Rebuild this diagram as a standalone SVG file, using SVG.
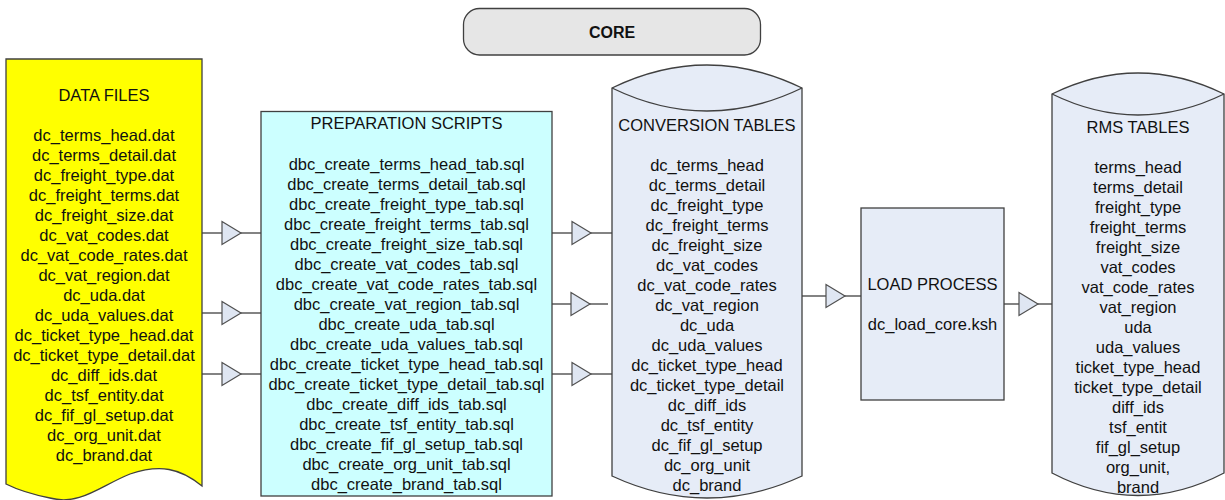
<svg xmlns="http://www.w3.org/2000/svg" xmlns:xlink="http://www.w3.org/1999/xlink" width="1225" height="500" viewBox="0 0 1225 500">
<style>
text{font-family:"Liberation Sans",Arial,sans-serif;font-size:16.5px;fill:#111;text-anchor:middle}
.title{font-size:16.5px}
.core{font-weight:bold;font-size:16px}
.shape{stroke:#404040;stroke-width:1.3}
.blue{fill:#e6ecf7}
.conn{stroke:#5a5a5a;stroke-width:1.3;fill:none}
.tri{fill:#dfe6f2;stroke:#505050;stroke-width:1.2}
</style>
<defs>
<polygon id="tri" class="tri" points="0,-11.5 19,0 0,11.5"/>
</defs>
<rect width="1225" height="500" fill="#fff"/>

<g id="core">
<rect class="shape" x="463.5" y="8.5" width="297" height="46.5" rx="16" fill="#e6e6e6"/>
<text class="core" x="612" y="37.5">CORE</text>
</g>

<g id="connectors">
<line class="conn" x1="202" y1="233" x2="261" y2="233"/>
<line class="conn" x1="202" y1="313" x2="261" y2="313" stroke="#222"/>
<line class="conn" x1="202" y1="374" x2="261" y2="374"/>
<line class="conn" x1="552" y1="233" x2="612" y2="233"/>
<line class="conn" x1="552" y1="304" x2="608" y2="304"/>
<line class="conn" x1="552" y1="374" x2="612" y2="374"/>
<line class="conn" x1="802" y1="296" x2="861" y2="296" stroke="#222"/>
<line class="conn" x1="1004" y1="304" x2="1052" y2="304"/>
<use xlink:href="#tri" x="222" y="233"/>
<use xlink:href="#tri" x="222" y="313"/>
<use xlink:href="#tri" x="222" y="374"/>
<use xlink:href="#tri" x="572" y="233"/>
<use xlink:href="#tri" x="571" y="304"/>
<use xlink:href="#tri" x="572" y="374"/>
<use xlink:href="#tri" x="826" y="296"/>
<use xlink:href="#tri" x="1019" y="304"/>
</g>

<g id="data-files">
<path class="shape" fill="#ffff00" d="M6,59 L202,59 L202,486 C180,468 160,464 130,474 C100,486 80,506 50,498 C30,494 18,490 6,484 Z"/>
<text x="104" y="101">DATA FILES</text>
<text x="104" y="141">dc_terms_head.dat</text>
<text x="104" y="161">dc_terms_detail.dat</text>
<text x="104" y="181">dc_freight_type.dat</text>
<text x="104" y="201">dc_freight_terms.dat</text>
<text x="104" y="221">dc_freight_size.dat</text>
<text x="104" y="241">dc_vat_codes.dat</text>
<text x="104" y="261">dc_vat_code_rates.dat</text>
<text x="104" y="281">dc_vat_region.dat</text>
<text x="104" y="301">dc_uda.dat</text>
<text x="104" y="321">dc_uda_values.dat</text>
<text x="104" y="341">dc_ticket_type_head.dat</text>
<text x="104" y="361">dc_ticket_type_detail.dat</text>
<text x="104" y="381">dc_diff_ids.dat</text>
<text x="104" y="401">dc_tsf_entity.dat</text>
<text x="104" y="421">dc_fif_gl_setup.dat</text>
<text x="104" y="441">dc_org_unit.dat</text>
<text x="104" y="461">dc_brand.dat</text>
</g>

<g id="preparation-scripts">
<rect class="shape" x="261" y="111.5" width="291" height="384.5" fill="#ccffff"/>
<text x="406.5" y="129">PREPARATION SCRIPTS</text>
<text x="406.5" y="170">dbc_create_terms_head_tab.sql</text>
<text x="406.5" y="190">dbc_create_terms_detail_tab.sql</text>
<text x="406.5" y="210">dbc_create_freight_type_tab.sql</text>
<text x="406.5" y="230">dbc_create_freight_terms_tab.sql</text>
<text x="406.5" y="250">dbc_create_freight_size_tab.sql</text>
<text x="406.5" y="270">dbc_create_vat_codes_tab.sql</text>
<text x="406.5" y="290">dbc_create_vat_code_rates_tab.sql</text>
<text x="406.5" y="310">dbc_create_vat_region_tab.sql</text>
<text x="406.5" y="330">dbc_create_uda_tab.sql</text>
<text x="406.5" y="350">dbc_create_uda_values_tab.sql</text>
<text x="406.5" y="370">dbc_create_ticket_type_head_tab.sql</text>
<text x="406.5" y="390">dbc_create_ticket_type_detail_tab.sql</text>
<text x="406.5" y="410">dbc_create_diff_ids_tab.sql</text>
<text x="406.5" y="430">dbc_create_tsf_entity_tab.sql</text>
<text x="406.5" y="450">dbc_create_fif_gl_setup_tab.sql</text>
<text x="406.5" y="470">dbc_create_org_unit_tab.sql</text>
<text x="406.5" y="490">dbc_create_brand_tab.sql</text>
</g>

<g id="conversion-tables">
<path class="shape blue" d="M612,88 Q707,42 802,88 L802,476 Q707,520 612,476 Z"/>
<path class="shape" fill="none" d="M612,88 Q707,134 802,88"/>
<text x="707" y="131">CONVERSION TABLES</text>
<text x="707" y="171">dc_terms_head</text>
<text x="707" y="191">dc_terms_detail</text>
<text x="707" y="211">dc_freight_type</text>
<text x="707" y="231">dc_freight_terms</text>
<text x="707" y="251">dc_freight_size</text>
<text x="707" y="271">dc_vat_codes</text>
<text x="707" y="291">dc_vat_code_rates</text>
<text x="707" y="311">dc_vat_region</text>
<text x="707" y="331">dc_uda</text>
<text x="707" y="351">dc_uda_values</text>
<text x="707" y="371">dc_ticket_type_head</text>
<text x="707" y="391">dc_ticket_type_detail</text>
<text x="707" y="411">dc_diff_ids</text>
<text x="707" y="431">dc_tsf_entity</text>
<text x="707" y="451">dc_fif_gl_setup</text>
<text x="707" y="471">dc_org_unit</text>
<text x="707" y="491">dc_brand</text>
</g>

<g id="load-process">
<rect class="shape blue" x="861" y="208" width="143" height="192"/>
<text x="932.5" y="290">LOAD PROCESS</text>
<text x="932.5" y="330">dc_load_core.ksh</text>
</g>

<g id="rms-tables">
<path class="shape blue" d="M1052,94 Q1138,52 1224,94 L1224,473 Q1138,518 1052,473 Z"/>
<path class="shape" fill="none" d="M1052,94 Q1138,136 1224,94"/>
<text x="1138" y="133">RMS TABLES</text>
<text x="1138" y="173">terms_head</text>
<text x="1138" y="193">terms_detail</text>
<text x="1138" y="213">freight_type</text>
<text x="1138" y="233">freight_terms</text>
<text x="1138" y="253">freight_size</text>
<text x="1138" y="273">vat_codes</text>
<text x="1138" y="293">vat_code_rates</text>
<text x="1138" y="313">vat_region</text>
<text x="1138" y="333">uda</text>
<text x="1138" y="353">uda_values</text>
<text x="1138" y="373">ticket_type_head</text>
<text x="1138" y="393">ticket_type_detail</text>
<text x="1138" y="413">diff_ids</text>
<text x="1138" y="433">tsf_entit</text>
<text x="1138" y="453">fif_gl_setup</text>
<text x="1138" y="473">org_unit,</text>
<text x="1138" y="493">brand</text>
</g>
</svg>
